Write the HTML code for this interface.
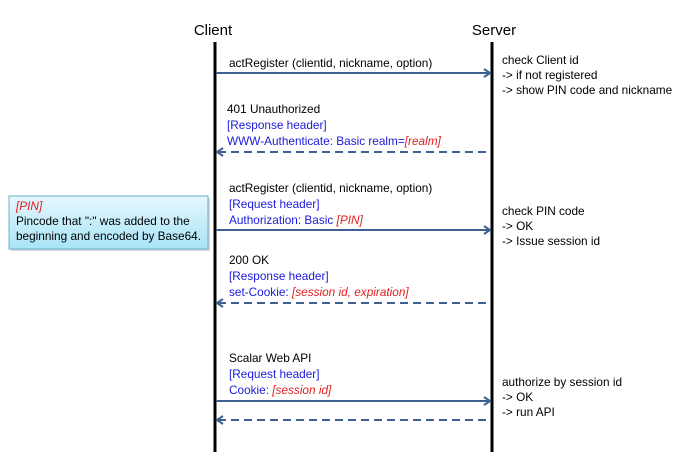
<!DOCTYPE html>
<html><head><style>
body{margin:0;background:#fff;}
svg{display:block;font-family:"Liberation Sans",sans-serif;}
.t{font-size:11.8px;fill:#000;}
.b{font-size:11.8px;fill:#1a1adc;}
.r{font-size:11.8px;fill:#e02020;font-style:italic;}
</style></head><body>
<svg width="700" height="470" xmlns="http://www.w3.org/2000/svg">
<defs>
<linearGradient id="g" x1="0" y1="0" x2="0" y2="1"><stop offset="0" stop-color="#e6f7fd"/><stop offset="1" stop-color="#a8e4f7"/></linearGradient>
</defs>
<text x="213" y="35" font-size="15" text-anchor="middle">Client</text>
<text x="494" y="35" font-size="15" text-anchor="middle">Server</text>
<line x1="215" y1="42" x2="215" y2="452" stroke="#000" stroke-width="3"/>
<line x1="492" y1="42" x2="492" y2="452" stroke="#000" stroke-width="3"/>
<g stroke="#3f6092" stroke-width="2" fill="none">
<line x1="216" y1="73" x2="490" y2="73"/><polyline points="484,69 490,73 484,77"/>
<line x1="218" y1="152" x2="490" y2="152" stroke-dasharray="8,5"/><polyline points="223,148 217,152 223,156"/>
<line x1="216" y1="230" x2="490" y2="230"/><polyline points="484,226 490,230 484,234"/>
<line x1="218" y1="303" x2="490" y2="303" stroke-dasharray="8,5"/><polyline points="223,299 217,303 223,307"/>
<line x1="216" y1="401" x2="490" y2="401"/><polyline points="484,397 490,401 484,405"/>
<line x1="218" y1="420" x2="490" y2="420" stroke-dasharray="8,5"/><polyline points="223,416 217,420 223,424"/>
</g>
<text class="t" x="229" y="67">actRegister (clientid, nickname, option)</text>
<text class="t" x="227" y="113">401 Unauthorized</text>
<text class="b" x="227" y="129">[Response header]</text>
<text class="b" x="227" y="145">WWW-Authenticate: Basic realm=<tspan class="r">[realm]</tspan></text>
<text class="t" x="229" y="192">actRegister (clientid, nickname, option)</text>
<text class="b" x="229" y="208">[Request header]</text>
<text class="b" x="229" y="224">Authorization: Basic <tspan class="r">[PIN]</tspan></text>
<text class="t" x="229" y="264">200 OK</text>
<text class="b" x="229" y="280">[Response header]</text>
<text class="b" x="229" y="296">set-Cookie: <tspan class="r">[session id, expiration]</tspan></text>
<text class="t" x="229" y="362">Scalar Web API</text>
<text class="b" x="229" y="378">[Request header]</text>
<text class="b" x="229" y="394">Cookie: <tspan class="r">[session id]</tspan></text>
<text class="t" x="502" y="64">check Client id</text>
<text class="t" x="502" y="79">-&gt; if not registered</text>
<text class="t" x="502" y="94">-&gt; show PIN code and nickname</text>
<text class="t" x="502" y="215">check PIN code</text>
<text class="t" x="502" y="230">-&gt; OK</text>
<text class="t" x="502" y="245">-&gt; Issue session id</text>
<text class="t" x="502" y="386">authorize by session id</text>
<text class="t" x="502" y="401">-&gt; OK</text>
<text class="t" x="502" y="416">-&gt; run API</text>
<rect x="11" y="198" width="199" height="53" fill="#8fa0a8" opacity="0.4"/>
<rect x="9" y="196" width="199" height="53" fill="url(#g)" stroke="#6ab0c8" stroke-width="1"/>
<text class="r" x="16" y="210">[PIN]</text>
<text class="t" x="16" y="225">Pincode that ":" was added to the</text>
<text class="t" x="16" y="240">beginning and encoded by Base64.</text>
</svg>
</body></html>
